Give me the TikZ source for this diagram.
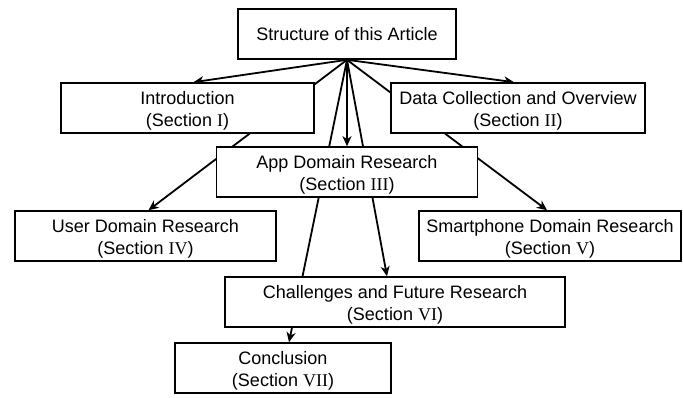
\documentclass[tikz,border=0pt]{standalone}
\usepackage{fontspec}
\setmainfont{Liberation Sans}
\newfontfamily\numfont{Liberation Serif}
\usetikzlibrary{arrows.meta,backgrounds}
\newcommand{\topstrut}{\rule{0pt}{18.5pt}}
\begin{document}
\begin{tikzpicture}[x=1pt,y=-1pt,
  box/.style={draw,line width=1.6pt,fill=white,inner sep=0pt,align=center,
    minimum height=50pt,font=\fontsize{18}{21.5}\selectfont},
  conn/.style={line width=1.8pt},
  arr/.style={conn,-{Stealth[length=10pt,width=9pt,inset=3pt]}}]
\useasboundingbox (0,0) rectangle (683,397);
\node[box,minimum width=218pt] (top) at (347,34) {Structure of this Article};
\node[box,minimum width=253pt] (intro) at (187.5,108) {\topstrut Introduction\\(Section {\numfont I})};
\node[box,minimum width=254pt] (data) at (518,108) {\topstrut Data Collection and Overview\\(Section {\numfont II})};
\node[box,minimum width=261pt] (app) at (347,172) {\topstrut App Domain Research\\(Section {\numfont III})};
\node[box,minimum width=261pt] (user) at (145.5,236) {\topstrut User Domain Research\\(Section {\numfont IV})};
\node[box,minimum width=262pt] (smart) at (550,236) {\topstrut Smartphone Domain Research\\(Section {\numfont V})};
\node[box,minimum width=340pt] (chall) at (395,302) {\topstrut Challenges and Future Research\\(Section {\numfont VI})};
\node[box,minimum width=216pt] (concl) at (283,368) {\topstrut Conclusion\\(Section {\numfont VII})};
\begin{pgfonlayer}{background}
\draw[arr] (top.south) -- ([xshift=6pt]intro.north);
\draw[arr] (top.south) -- ([xshift=-4pt]data.north);
\draw[arr] (top.south) -- (app.north);
\draw[arr] (top.south) -- ([xshift=3pt]user.north);
\draw[arr] (top.south) -- ([xshift=-3pt]smart.north);
\draw[arr] (top.south) -- ([xshift=-8pt]chall.north);
\draw[arr] (top.south) -- ([xshift=6pt]concl.north);
\end{pgfonlayer}
\end{tikzpicture}
\end{document}
